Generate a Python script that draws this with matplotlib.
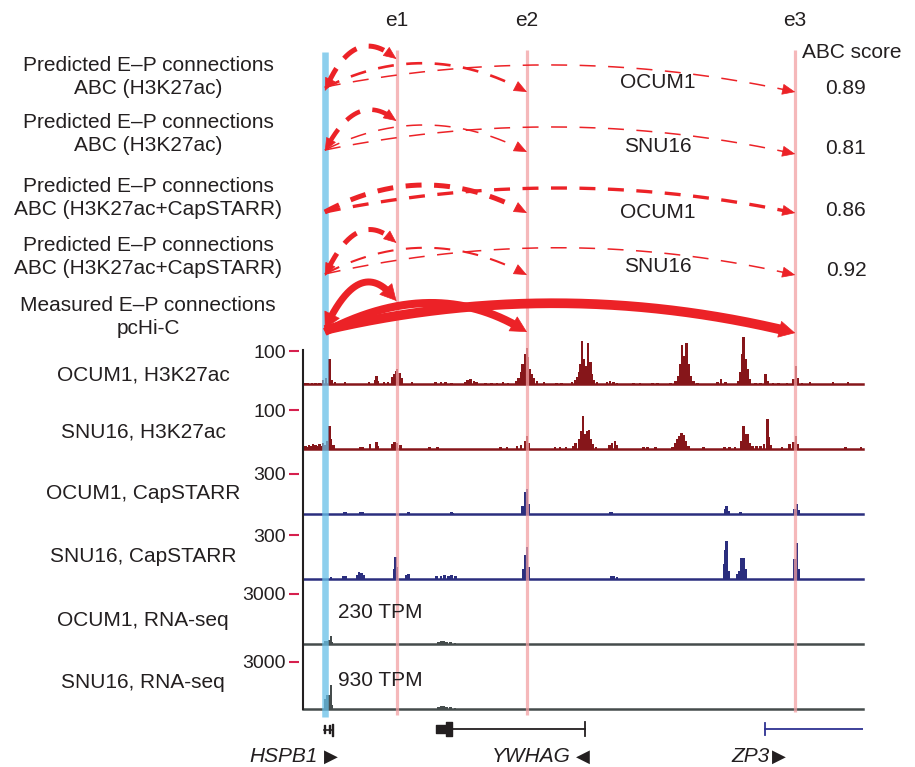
import numpy as np
import matplotlib
matplotlib.use("Agg")
import matplotlib.pyplot as plt

plt.rcParams['font.family'] = ['Liberation Sans', 'DejaVu Sans']

W, H, DPI = 915, 767, 100

# ---------------------------------------------------------------- data
# browser window, kb from its left edge
view_kb = (0, 100)
promoter_kb = 3.9                      # HSPB1 promoter
enh_names = ['e1', 'e2', 'e3']
enh_kb = [16.7, 40.0, 87.9]

abc_labels = ['Predicted E\u2013P connections\nABC (H3K27ac)',
              'Predicted E\u2013P connections\nABC (H3K27ac)',
              'Predicted E\u2013P connections\nABC (H3K27ac+CapSTARR)',
              'Predicted E\u2013P connections\nABC (H3K27ac+CapSTARR)']
abc_cells = ['OCUM1', 'SNU16', 'OCUM1', 'SNU16']
abc_scores = [0.89, 0.81, 0.86, 0.92]
abc_links = [['e1', 'e2', 'e3'], ['e1', 'e2', 'e3'], ['e2', 'e3'], ['e1', 'e2', 'e3']]
hic_label = 'Measured E\u2013P connections\npcHi-C'
hic_links = ['e1', 'e2', 'e3']

# H3K27ac, OCUM1
h3_ocum1_pos = [0.4, 0.9, 1.6, 2.2, 2.9, 3.6, 4.1, 4.7, 4.8, 5.2, 5.7, 7.5, 11.8,
                12.9, 13.1, 13.4, 14.5, 15.2, 16.0, 16.3, 16.7, 16.8, 17.2, 17.6, 19.5,
                23.7, 24.6, 25.4, 26.5, 28.9, 29.4, 29.9, 30.5, 31.0, 32.6, 33.7, 34.6,
                35.7, 36.6, 38.0, 38.5, 38.9, 39.2, 39.6, 40.0, 40.1, 40.5, 40.9, 41.2,
                41.8, 43.0, 45.3, 46.2, 48.0, 48.6, 48.9, 49.3, 49.5, 49.8, 50.2, 50.5,
                50.9, 51.3, 51.6, 52.0, 52.5, 54.3, 54.8, 55.4, 56.1, 59.0, 60.2, 62.4,
                63.3, 65.6, 66.5, 67.0, 67.4, 67.7, 68.1, 68.5, 68.8, 69.2, 69.7, 70.4,
                74.0, 74.6, 75.4, 77.8, 78.1, 78.5, 78.7, 79.0, 79.4, 79.7, 80.8, 81.7,
                82.6, 83.0, 83.9, 84.9, 86.4, 87.6, 88.0, 88.4, 89.1, 90.5, 94.6, 97.3]
h3_ocum1_val = [3, 3, 3, 3, 3, 12, 18, 76, 30, 12, 6, 6, 6,
                12, 24, 9, 6, 6, 21, 30, 39, 45, 33, 18, 6,
                6, 6, 6, 3, 6, 12, 15, 9, 6, 3, 3, 3,
                6, 3, 9, 18, 36, 60, 91, 109, 82, 45, 30, 18,
                9, 6, 3, 3, 6, 12, 21, 36, 60, 130, 76, 55,
                124, 67, 30, 12, 6, 6, 9, 6, 3, 3, 3, 3,
                3, 3, 9, 24, 60, 118, 85, 124, 60, 24, 9, 3,
                6, 15, 6, 9, 36, 91, 142, 76, 45, 15, 3, 3,
                30, 9, 3, 3, 3, 15, 55, 18, 3, 6, 6, 6]

# H3K27ac, SNU16
h3_snu16_pos = [0.4, 0.7, 1.1, 1.4, 1.8, 2.2, 2.5, 2.9, 3.2, 3.6, 3.9, 4.3, 4.7, 5.0,
                5.4, 10.2, 10.6, 12.0, 13.1, 13.4, 16.0, 16.3, 16.8, 17.4, 22.6, 24.0,
                35.3, 36.4, 38.2, 38.9, 39.6, 40.0, 40.3, 45.0, 45.9, 47.0, 48.2, 48.7,
                49.3, 49.6, 50.0, 50.4, 50.7, 51.1, 51.4, 51.8, 52.3, 54.7, 55.2, 55.7,
                56.1, 60.8, 61.5, 62.9, 66.0, 66.5, 66.8, 67.2, 67.6, 67.9, 68.3, 68.8,
                71.5, 75.3, 76.2, 77.1, 78.3, 78.7, 79.0, 79.4, 79.7, 80.3, 81.0, 81.7,
                82.3, 82.9, 83.2, 83.5, 85.5, 86.9, 87.6, 88.0, 88.4, 96.9, 99.6]
h3_snu16_val = [8, 5, 10, 8, 13, 10, 8, 13, 8, 15, 10, 20, 59, 26,
                10, 5, 5, 13, 18, 8, 13, 18, 15, 10, 5, 5,
                5, 5, 8, 10, 20, 33, 15, 5, 5, 5, 8, 15,
                26, 46, 84, 38, 46, 49, 26, 13, 5, 10, 15, 20,
                10, 5, 5, 5, 5, 15, 26, 33, 41, 36, 20, 8,
                5, 5, 5, 5, 20, 59, 38, 38, 15, 8, 8, 8,
                13, 77, 31, 10, 5, 13, 18, 33, 13, 5, 5]

# CapSTARR-seq, OCUM1
cs_ocum1_pos = [7.3, 7.7, 10.2, 10.6, 18.8, 26.5, 26.7, 39.2, 39.6, 40.0, 40.3,
                54.8, 55.2, 75.4, 75.6, 76.0, 78.1, 87.8, 88.2, 88.5]
cs_ocum1_val = [15, 15, 15, 15, 15, 15, 8, 60, 165, 188, 75,
                15, 15, 38, 60, 23, 15, 38, 75, 30]

# CapSTARR-seq, SNU16
cs_snu16_pos = [5.0, 7.2, 7.7, 9.7, 10.0, 10.4, 10.8, 16.3, 16.5, 16.8, 18.5, 18.8,
                23.8, 24.6, 25.3, 26.0, 26.5, 27.2, 39.4, 39.6, 40.0, 40.3, 55.0, 55.4,
                56.1, 75.3, 75.4, 75.6, 76.0, 77.6, 77.9, 78.3, 78.7, 79.0, 87.8, 88.2,
                88.5]
cs_snu16_val = [13, 20, 20, 27, 47, 40, 27, 67, 153, 80, 27, 33,
                20, 20, 27, 20, 27, 20, 67, 167, 220, 80, 20, 20,
                13, 100, 200, 260, 53, 33, 53, 140, 140, 67, 133, 247,
                67]

# RNA-seq
rna_ocum1_pos = [4.0, 4.3, 4.6, 5.0, 5.2, 24.2, 24.6, 25.1, 25.6, 26.3, 27.1]
rna_ocum1_val = [180, 180, 240, 480, 120, 120, 180, 180, 120, 120, 60]
rna_snu16_pos = [4.0, 4.3, 4.6, 5.0, 5.2, 24.2, 24.6, 25.1, 25.6, 26.3, 27.1]
rna_snu16_val = [625, 875, 875, 1560, 250, 125, 190, 190, 125, 125, 60]
rna_tpm = [230, 930]

track_names = ['OCUM1, H3K27ac', 'SNU16, H3K27ac', 'OCUM1, CapSTARR',
               'SNU16, CapSTARR', 'OCUM1, RNA-seq', 'SNU16, RNA-seq']
track_pos = [h3_ocum1_pos, h3_snu16_pos, cs_ocum1_pos, cs_snu16_pos,
             rna_ocum1_pos, rna_snu16_pos]
track_val = [h3_ocum1_val, h3_snu16_val, cs_ocum1_val, cs_snu16_val,
             rna_ocum1_val, rna_snu16_val]
track_max = [100, 100, 300, 300, 3000, 3000]

# gene models (kb)
hspb1_exons = [(3.8, 0.2), (4.6, 0.2), (5.1, 0.2)]
ywhag_utr = (23.8, 1.7)
ywhag_cds = (25.5, 1.1)
ywhag_end = 50.4
zp3_start = 82.5

# ---------------------------------------------------------------- style
RED = '#ec2227'
TXT = '#231f20'
TICK = '#d6204e'
PINK = '#f2a0a3'
BLUE = '#67c0e8'
track_col = ['#86161a', '#86161a', '#2b2e7e', '#2b2e7e', '#454c4c', '#454c4c']
X0, X1 = 303, 863
track_top = [351, 410, 474, 535, 594, 662]
track_base = [384, 449, 514, 579, 644, 709]
track_label_y = [375, 432, 494, 557, 620, 683]

# arc geometry per row: start y, end y, control-point fraction, control y,
# line width (pt), arrowhead at the promoter end too
abc_geom = [
    {'e1': (91, 59, 0.40, 22, 3.6, True), 'e2': (88, 92, 0.5, 36.5, 1.9, False),
     'e3': (87, 92, 0.5, 40.5, 1.1, False)},
    {'e1': (151, 121, 0.45, 88, 3.3, True), 'e2': (150, 152, 0.5, 99, 1.1, False),
     'e3': (150, 154, 0.5, 102, 1.1, False)},
    {'e2': (212, 213, 0.5, 157.5, 3.6, False), 'e3': (212, 213, 0.5, 163.5, 2.4, False)},
    {'e1': (276, 243, 0.45, 204.5, 3.6, True), 'e2': (274, 275, 0.5, 221, 1.5, False),
     'e3': (274, 275, 0.5, 221, 1.1, False)},
]
hic_geom = {'e1': (329, 301, 0.5, 252, 5.0, True), 'e2': (332, 332, 0.55, 274, 5.8, False),
            'e3': (330, 333, 0.5, 275, 7.0, False)}
abc_label_y = [77, 134, 198, 257]
cell_label_y = [83, 147, 213, 267]
score_y = [89, 149, 210, 271]

fig = plt.figure(figsize=(W / DPI, H / DPI), dpi=DPI)


def ftext(x, y, s, **kw):
    kw.setdefault('color', TXT)
    return fig.text(x / W, 1 - y / H, s, **kw)


# ---------------------------------------------------------------- tracks
for i, name in enumerate(track_names):
    top, base = track_top[i], track_base[i]
    ax = fig.add_axes([X0 / W, 1 - base / H, (X1 - X0) / W, (base - top) / H])
    ax.bar(track_pos[i], track_val[i], width=0.45, color=track_col[i],
           linewidth=0, clip_on=False)
    ax.set_xlim(*view_kb)
    ax.set_ylim(0, track_max[i])
    ax.patch.set_visible(False)
    for s in ('top', 'right', 'left'):
        ax.spines[s].set_visible(False)
    ax.spines['left'].set_position(('outward', 3))
    ax.spines['bottom'].set_color(track_col[i])
    ax.spines['bottom'].set_linewidth(1.8)
    ax.set_xticks([])
    ax.set_yticks([track_max[i]])
    ax.tick_params(axis='y', length=7, width=1.5, color=TICK, pad=2.5,
                   labelsize=14, labelcolor=TXT)
    ftext(143, track_label_y[i], name, ha='center', va='center', fontsize=15)

ftext(338, 613, f'{rna_tpm[0]} TPM', ha='left', va='center', fontsize=15)
ftext(338, 680, f'{rna_tpm[1]} TPM', ha='left', va='center', fontsize=15)

# ---------------------------------------------------------------- overlay
ov = fig.add_axes([X0 / W, 0, (X1 - X0) / W, 1])
ov.set_xlim(*view_kb)
ov.set_ylim(H, 0)
ov.axis('off')

ov.plot([0, 0], [350, 709], color=TXT, lw=1.5, clip_on=False, zorder=2)
ov.plot([promoter_kb] * 2, [52, 717], color=BLUE, lw=4.7, alpha=0.75,
        solid_capstyle='butt', zorder=1)
for k, x in enumerate(enh_kb):
    ov.plot([x, x], [50, 712 if k == 2 else 715], color=PINK, lw=2.3, alpha=0.75,
            solid_capstyle='butt', zorder=1)
    ov.text(x, 21, enh_names[k], ha='center', va='center', fontsize=15, color=TXT)


def arc(x0, x1, geom, dashed, head):
    y0, y1, frac, yc, lw, both = geom
    cx = x0 + frac * (x1 - x0)
    t = np.linspace(0, 1, 500)
    xs = (1 - t) ** 2 * x0 + 2 * t * (1 - t) * cx + t ** 2 * x1
    ys = (1 - t) ** 2 * y0 + 2 * t * (1 - t) * yc + t ** 2 * y1
    disp = ov.transData.transform(np.column_stack([xs, ys]))
    hl = head[0] * DPI / 72
    to_end = np.hypot(*(disp - disp[-1]).T)
    to_start = np.hypot(*(disp - disp[0]).T)
    keep = to_end >= hl * 0.8
    if both:
        keep &= to_start >= hl * 0.8
    style = dict(color=RED, lw=lw, solid_capstyle='butt', zorder=3)
    if dashed:
        style['dashes'] = (11.5 / lw, 9.0 / lw)
        style['dash_capstyle'] = 'butt'
    ov.plot(xs[keep], ys[keep], **style)
    ends = [(-1, to_end)] + ([(0, to_start)] if both else [])
    for idx, dist in ends:
        j = int(np.argmin(np.abs(dist - hl)))
        ov.annotate('', xy=(xs[idx], ys[idx]), xytext=(xs[j], ys[j]),
                    arrowprops=dict(arrowstyle=f'-|>,head_length={head[0]},head_width={head[1]}',
                                    mutation_scale=1, color=RED, lw=0.5,
                                    shrinkA=0, shrinkB=0),
                    zorder=4)


for r, links in enumerate(abc_links):
    for e in links:
        arc(promoter_kb, enh_kb[enh_names.index(e)], abc_geom[r][e], True, (8.5, 3.6))
    ftext(148, abc_label_y[r], abc_labels[r], ha='center', va='center',
          fontsize=15, linespacing=1.25)
    ftext(658, cell_label_y[r], abc_cells[r], ha='center', va='center', fontsize=15)
    ftext(846, score_y[r], f'{abc_scores[r]:.2f}', ha='center', va='center', fontsize=15)

for e in hic_links:
    arc(promoter_kb, enh_kb[enh_names.index(e)], hic_geom[e], False, (11, 5.8))
ftext(148, 317, hic_label, ha='center', va='center', fontsize=15, linespacing=1.25)
ftext(802, 52, 'ABC score', ha='left', va='center', fontsize=15)

# gene models
GENE_Y = 729
ov.plot([hspb1_exons[0][0], hspb1_exons[-1][0] + hspb1_exons[-1][1]], [GENE_Y + 1] * 2,
        color=TXT, lw=1.2)
ov.broken_barh(hspb1_exons[:2], (GENE_Y - 4, 8), color=TXT)
ov.broken_barh(hspb1_exons[2:], (GENE_Y - 5, 12), color=TXT)
ov.plot([ywhag_cds[0], ywhag_end], [GENE_Y] * 2, color=TXT, lw=1.3)
ov.broken_barh([ywhag_utr], (GENE_Y - 4, 8), color=TXT)
ov.broken_barh([ywhag_cds], (GENE_Y - 7, 14), color=TXT)
ov.plot([ywhag_end] * 2, [GENE_Y - 7, GENE_Y + 7], color=TXT, lw=1.3)
ov.plot([zp3_start, view_kb[1]], [GENE_Y] * 2, color='#2e3192', lw=1.3)
ov.plot([zp3_start] * 2, [GENE_Y - 6, GENE_Y + 6], color='#2e3192', lw=1.3)

for name, xr, tri, xt in [('HSPB1', 318, '\u25b6', 331), ('YWHAG', 571, '\u25c0', 583),
                          ('ZP3', 770, '\u25b6', 779)]:
    ftext(xr, 757, name, ha='right', va='center', fontsize=15, style='italic')
    ftext(xt, 757, tri, ha='center', va='center', fontsize=13, family='DejaVu Sans')

fig.savefig('out.png', dpi=DPI)
